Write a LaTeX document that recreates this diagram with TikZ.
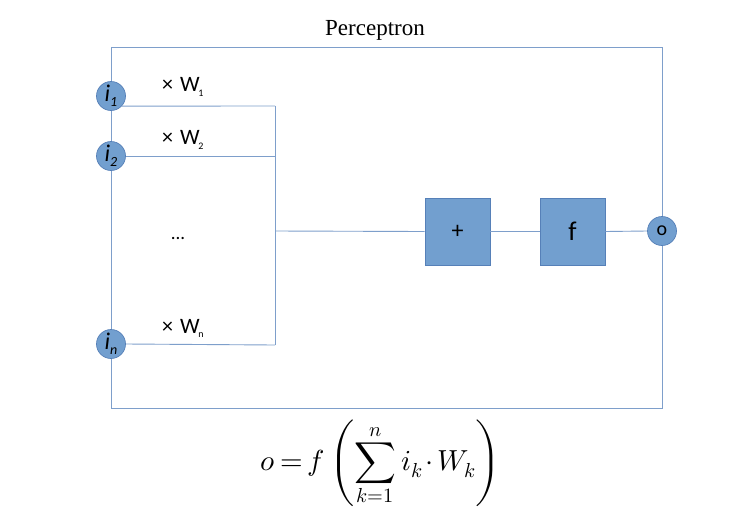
\documentclass[tikz,border=0pt]{standalone}
\usepackage{fontspec}
\setmainfont{Liberation Serif}
\newfontfamily\labfont{Carlito}
\usepackage{unicode-math}
\begin{document}
\begin{tikzpicture}[x=1pt,y=-1pt]
\definecolor{lineblue}{RGB}{126,159,203}
\definecolor{fillblue}{RGB}{114,159,207}
\definecolor{edgeblue}{RGB}{86,128,184}
\tikzset{
  wire/.style={draw=lineblue,line width=0.9pt},
  inode/.style={circle,fill=fillblue,draw=edgeblue,line width=0.7pt,minimum size=29pt,inner sep=0pt,font=\labfont\fontsize{24}{26}\selectfont},
  opbox/.style={rectangle,fill=fillblue,draw=edgeblue,line width=0.7pt,minimum width=65pt,minimum height=67pt,inner sep=0pt,font=\labfont\fontsize{24}{26}\selectfont},
  wlabel/.style={font=\labfont\fontsize{22}{24}\selectfont,inner sep=0pt,anchor=west},
  sublab/.style={font=\labfont\fontsize{10}{11}\selectfont,inner sep=0pt}
}
\useasboundingbox (0,0) rectangle (740,523);
\fill[white] (0,0) rectangle (740,523);
% frame
\node[draw=lineblue,line width=0.9pt,minimum width=551pt,minimum height=361pt,inner sep=0pt] (frame) at (386.5,227.5) {};
\node[font=\fontsize{23}{26}\selectfont,inner sep=0pt] (title) at (375,30) {Perceptron};
% inputs
\node[inode] (i1) at (111,96) {\itshape i\raisebox{-0.4ex}{\fontsize{14}{14}\selectfont 1}};
\node[inode] (i2) at (111,156) {\itshape i\raisebox{-0.4ex}{\fontsize{14}{14}\selectfont 2}};
\node[inode] (in) at (111,344) {\itshape i\raisebox{-0.4ex}{\fontsize{14}{14}\selectfont n}};
\coordinate (j1) at (275,106);
\coordinate (j2) at (275,156);
\coordinate (jn) at (275,345);
\coordinate (jm) at (275,231);
\draw[wire] (i1.-43) -- (j1);
\draw[wire] (i2.east) -- (j2);
\draw[wire] (in.east) -- (jn);
\draw[wire] (j1) -- (jn);
% ops
\node[opbox] (plus) at (457.5,231.5) {\raisebox{-2pt}{+}};
\node[opbox,font=\labfont\fontsize{27}{29}\selectfont] (fbox) at (572.5,231.5) {\raisebox{1pt}{f}};
\node[inode,font=\labfont\fontsize{20}{22}\selectfont] (o) at (662,231) {o};
\draw[wire] (jm) -- (plus.west);
\draw[wire] (plus.east) -- (fbox.west);
\draw[wire] (fbox.east) -- (o.west);
% weight labels
\node[wlabel] (w1) at (162,84) {×\hspace{7pt}W};
\node[sublab] (w1s) at (201,93) {1};
\node[wlabel] (w2) at (162,137) {×\hspace{7pt}W};
\node[sublab] (w2s) at (201,146) {2};
\node[wlabel] (wn) at (162,326) {×\hspace{7pt}W};
\node[sublab] (wns) at (201,335) {n};
\node[font=\labfont\fontsize{19}{21}\selectfont,inner sep=0pt] (dots) at (178,238) {...};
% formula
\node[inner sep=0pt,font=\fontsize{29}{36}\selectfont] (eq) at (381,463) {\thickmuskip=3mu\medmuskip=2mu$\displaystyle o=f\left(\sum_{k=1}^{n} i_k\cdot W_k\right)$};
\end{tikzpicture}
\end{document}
